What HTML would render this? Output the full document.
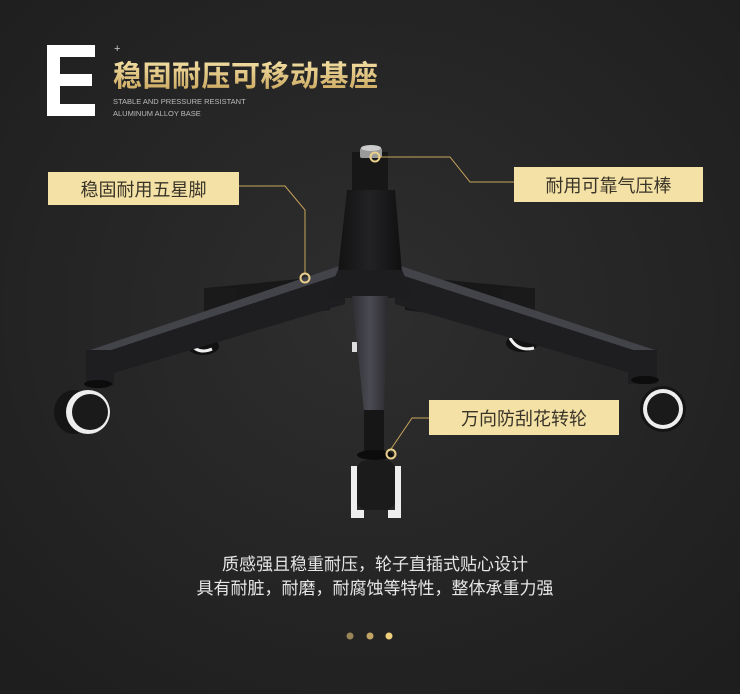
<!DOCTYPE html>
<html><head><meta charset="utf-8"><style>
html,body{margin:0;padding:0;width:740px;height:694px;overflow:hidden;background:#262626;}
svg{display:block}
</style></head><body>
<svg width="740" height="694" viewBox="0 0 740 694" xmlns="http://www.w3.org/2000/svg">
<defs>
<radialGradient id="bg" cx="50%" cy="45%" r="70%">
<stop offset="0" stop-color="#2e2e2e"/><stop offset="1" stop-color="#1e1e1e"/>
</radialGradient>
<linearGradient id="gold" x1="0" y1="0" x2="0" y2="1">
<stop offset="0" stop-color="#f3dfa3"/><stop offset="1" stop-color="#c9a55c"/>
</linearGradient>
<linearGradient id="col" x1="0" y1="0" x2="1" y2="0">
<stop offset="0" stop-color="#121212"/><stop offset="0.5" stop-color="#222225"/><stop offset="1" stop-color="#101010"/>
</linearGradient>
<linearGradient id="leg" x1="0" y1="0" x2="1" y2="0">
<stop offset="0" stop-color="#2e2e33"/><stop offset="0.5" stop-color="#4a4a52"/><stop offset="1" stop-color="#2a2a2e"/>
</linearGradient>
</defs>
<rect width="740" height="694" fill="url(#bg)"/>

<!-- Header -->
<g fill="#fff">
<rect x="47" y="45" width="13" height="71"/>
<rect x="47" y="45" width="48" height="12"/>
<rect x="47" y="74" width="45" height="12"/>
<rect x="47" y="104" width="48" height="12"/>
</g>
<text x="114" y="52" font-family="Liberation Sans, sans-serif" font-size="11" fill="#ccc">+</text>
<text x="113" y="86" font-family="Liberation Sans, 'Noto Sans CJK SC', sans-serif" font-size="29" font-weight="bold" fill="url(#gold)" letter-spacing="0.5">稳固耐压可移动基座</text>
<text x="113" y="104" font-family="Liberation Sans, sans-serif" font-size="7.5" fill="#bbb">STABLE AND PRESSURE RESISTANT</text>
<text x="113" y="116" font-family="Liberation Sans, sans-serif" font-size="7.5" fill="#bbb">ALUMINUM ALLOY BASE</text>

<!-- Back legs -->
<polygon points="330,276 206,288 206,326 330,310" fill="#181818"/>
<rect x="204" y="288" width="32" height="48" fill="#1a1a1a"/>
<polygon points="405,276 530,288 530,326 405,310" fill="#181818"/>
<rect x="503" y="288" width="32" height="48" fill="#1a1a1a"/>
<!-- back wheels -->
<ellipse cx="203" cy="346" rx="16" ry="9" fill="#111"/>
<path d="M190,343 q8,12 22,6" stroke="#eee" stroke-width="3" fill="none"/>
<ellipse cx="522" cy="343" rx="16" ry="9" fill="#111"/>
<path d="M510,338 q8,14 24,10" stroke="#eee" stroke-width="3" fill="none"/>
<rect x="352" y="342" width="5" height="10" fill="#ddd"/>

<!-- Left leg -->
<polygon points="345,264 90,350 90,380 345,304" fill="#1e1e20"/>
<polygon points="345,264 90,350 90,357 345,273" fill="#43434a"/>
<rect x="86" y="350" width="28" height="36" fill="#1e1e20"/>
<!-- Right leg -->
<polygon points="395,264 655,350 655,380 395,304" fill="#1e1e20"/>
<polygon points="395,264 655,350 655,357 395,273" fill="#43434a"/>
<rect x="628" y="350" width="29" height="34" fill="#1e1e20"/>

<!-- Column -->
<rect x="352" y="152" width="36" height="40" fill="#171717"/>
<rect x="360" y="148" width="22" height="10" rx="2" fill="#9a9a9a"/>
<ellipse cx="371" cy="148" rx="10" ry="3" fill="#ccc"/>
<path d="M347,190 L395,190 L402,272 L338,272 Z" fill="url(#col)"/>
<path d="M338,270 L402,270 L414,298 L326,298 Z" fill="#1d1d1f"/>
<!-- Front leg -->
<path d="M352,296 L388,296 L384,412 L364,412 Z" fill="url(#leg)"/>
<rect x="364" y="410" width="20" height="42" fill="#161616"/>

<!-- Left wheel -->
<ellipse cx="98" cy="384" rx="14" ry="4" fill="#0c0c0c"/>
<ellipse cx="74" cy="412" rx="20" ry="22" fill="#151515"/>
<circle cx="88" cy="412" r="22" fill="#eee"/>
<circle cx="90" cy="412" r="18" fill="#1a1a1a"/>
<!-- Right wheel -->
<ellipse cx="645" cy="380" rx="14" ry="4" fill="#0c0c0c"/>
<circle cx="663" cy="409" r="23" fill="#151515"/>
<circle cx="663" cy="409" r="20" fill="#eee"/>
<circle cx="663" cy="409" r="16" fill="#1a1a1a"/>
<!-- Front caster -->
<ellipse cx="375" cy="455" rx="18" ry="5" fill="#0c0c0c"/>
<rect x="357" y="460" width="38" height="50" rx="10" fill="#1b1b1b"/>
<path d="M351,466 L357,466 L357,510 L364,510 L364,518 L351,518 Z" fill="#eee"/>
<path d="M401,466 L395,466 L395,510 L388,510 L388,518 L401,518 Z" fill="#eee"/>

<!-- Callout lines -->
<g stroke="#c9a55c" stroke-width="1" fill="none">
<polyline points="239,186 285,186 305,210 305,273"/>
<polyline points="377,157 450,157 470,182 514,182"/>
<polyline points="429,418 412,418 391,449"/>
</g>
<g stroke="#e9cf8a" stroke-width="2" fill="none">
<circle cx="305" cy="278" r="4.5"/>
<circle cx="375" cy="157" r="4.5"/>
<circle cx="391" cy="454" r="4.5"/>
</g>

<!-- Labels -->
<rect x="48" y="172" width="191" height="33" fill="#f3e1a6"/>
<text x="143.5" y="196" text-anchor="middle" font-family="Liberation Sans, 'Noto Sans CJK SC', sans-serif" font-size="18" fill="#3a3428">稳固耐用五星脚</text>
<rect x="514" y="167" width="189" height="35" fill="#f3e1a6"/>
<text x="608.5" y="192" text-anchor="middle" font-family="Liberation Sans, 'Noto Sans CJK SC', sans-serif" font-size="18" fill="#3a3428">耐用可靠气压棒</text>
<rect x="429" y="400" width="190" height="35" fill="#f3e1a6"/>
<text x="524" y="425" text-anchor="middle" font-family="Liberation Sans, 'Noto Sans CJK SC', sans-serif" font-size="18" fill="#3a3428">万向防刮花转轮</text>

<!-- Caption -->
<text x="375" y="570" text-anchor="middle" font-family="Liberation Sans, 'Noto Sans CJK SC', sans-serif" font-size="17" fill="#e6e6e6">质感强且稳重耐压，轮子直插式贴心设计</text>
<text x="375" y="594" text-anchor="middle" font-family="Liberation Sans, 'Noto Sans CJK SC', sans-serif" font-size="17" fill="#e6e6e6">具有耐脏，耐磨，耐腐蚀等特性，整体承重力强</text>

<circle cx="350" cy="636" r="3.5" fill="#9a8558"/>
<circle cx="370" cy="636" r="3.5" fill="#c2a565"/>
<circle cx="389" cy="636" r="3.5" fill="#f0cf7a"/>
</svg>
</body></html>
